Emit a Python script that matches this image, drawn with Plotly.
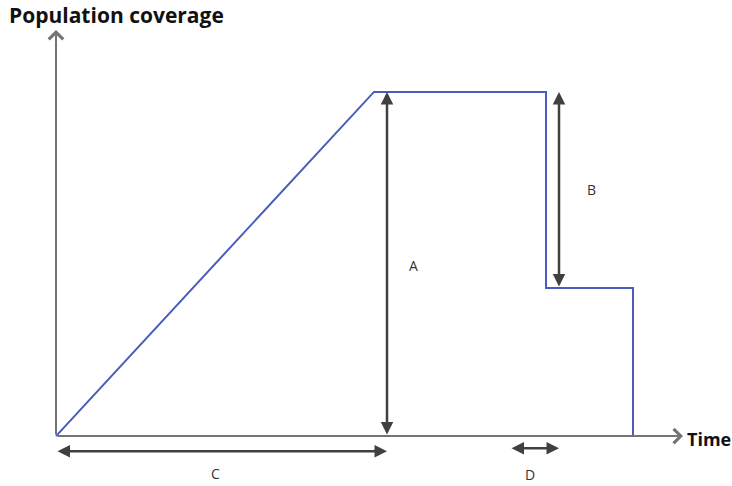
import plotly.graph_objects as go

# schematic: population coverage over time (arbitrary units)
time_pts = [0, 3.18, 4.90, 4.90, 5.77, 5.77]
coverage = [0, 1.0, 1.0, 0.43, 0.43, 0]

# dimension arrows: (label, x0, y0, x1, y1)
dim_arrows = [
    ("A", 3.31, 0.0, 3.31, 1.0),
    ("B", 5.03, 0.43, 5.03, 1.0),
    ("C", 0.0, -0.044, 3.31, -0.044),
    ("D", 4.54, -0.035, 5.03, -0.035),
]
dim_labels = {"A": (3.57, 0.497), "B": (5.35, 0.715), "C": (1.59, -0.108), "D": (4.74, -0.113)}

x_axis_end = 6.27
y_axis_end = 1.18

fig = go.Figure()
fig.add_trace(go.Scatter(x=time_pts, y=coverage, mode="lines",
                         line=dict(color="#4a5cbc", width=2), hoverinfo="skip"))

axis_col = "#747474"
# x axis
fig.add_annotation(x=x_axis_end, y=0, ax=0, ay=0, xref="x", yref="y", axref="x", ayref="y",
                   showarrow=True, arrowhead=4, arrowsize=1.4, arrowwidth=2, arrowcolor=axis_col, text="")
# y axis
fig.add_annotation(x=0, y=y_axis_end, ax=0, ay=0, xref="x", yref="y", axref="x", ayref="y",
                   showarrow=True, arrowhead=4, arrowsize=1.4, arrowwidth=2, arrowcolor=axis_col, text="")

for lab, x0, y0, x1, y1 in dim_arrows:
    fig.add_annotation(x=x1, y=y1, ax=x0, ay=y0, xref="x", yref="y", axref="x", ayref="y",
                       showarrow=True, arrowhead=2, startarrowhead=2, arrowside="end+start",
                       arrowsize=1, startarrowsize=1, arrowwidth=2.5, arrowcolor="#404040", text="")
    lx, ly = dim_labels[lab]
    fig.add_annotation(x=lx, y=ly, text=lab, showarrow=False,
                       font=dict(family="Open Sans", size=14, color="#333333"))

fig.add_annotation(x=-0.49, y=1.222, text="<b>Population coverage</b>", showarrow=False,
                   xanchor="left", font=dict(family="Open Sans", size=21, color="#111111"))
fig.add_annotation(x=6.29, y=-0.009, text="<b>Time</b>", showarrow=False,
                   xanchor="left", font=dict(family="Open Sans", size=18, color="#111111"))

fig.update_xaxes(visible=False, range=[-0.56, 6.76], fixedrange=True)
fig.update_yaxes(visible=False, range=[-0.145, 1.267], fixedrange=True)
fig.update_layout(width=732, height=486, margin=dict(l=0, r=0, t=0, b=0),
                  plot_bgcolor="white", paper_bgcolor="white", showlegend=False)

fig.write_html("out.html", config={"displayModeBar": False},
               post_script="document.body.style.margin='0';")
